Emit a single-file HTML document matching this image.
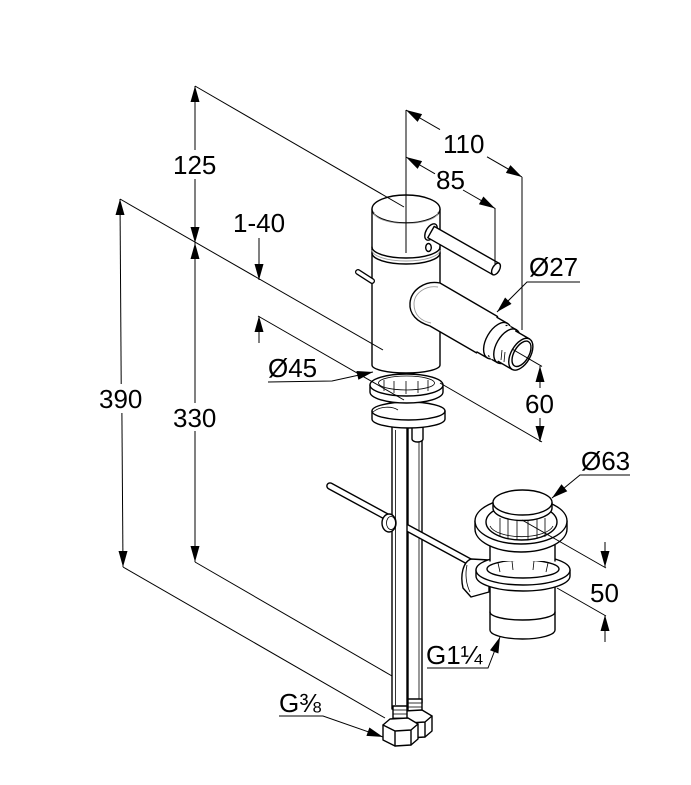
<!DOCTYPE html>
<html><head><meta charset="utf-8"><style>
html,body{margin:0;padding:0;background:#fff;}
svg{display:block;}
.o{fill:#fff;stroke:#000;stroke-width:1.4;stroke-linejoin:round;}
.n{fill:#fff;stroke:none;}
.s{fill:none;stroke:#000;stroke-width:1.4;stroke-linejoin:round;stroke-linecap:round;}
.t{fill:none;stroke:#000;stroke-width:0.8;}
.g{fill:none;stroke:#999;stroke-width:0.9;}
.d{fill:none;stroke:#000;stroke-width:1;}
.a{fill:#000;stroke:none;}
text{font-family:"Liberation Sans",Arial,sans-serif;font-size:26px;fill:#000;}
</style></head><body>
<svg width="691" height="785" viewBox="0 0 691 785" xmlns="http://www.w3.org/2000/svg">

<!-- ===== supply tubes, back tube B ===== -->
<rect class="o" x="408" y="425" width="14" height="278"/>
<line class="t" x1="419" y1="430" x2="419" y2="700"/>
<rect class="o" x="408" y="699" width="14" height="18"/>
<line class="t" x1="408" y1="703" x2="422" y2="703"/>
<line class="t" x1="408" y1="707" x2="422" y2="707"/>
<line class="t" x1="408" y1="711" x2="422" y2="711"/>
<!-- nut B -->
<path class="o" d="M404,711 L422,710 L432,716 L432,731 L425,737 L409,738 L397,732 L397,717 Z"/>
<path class="s" d="M397,717 L409,723 L425,722 L432,716 M409,723 L409,738 M425,722 L425,737"/>

<!-- pop-up rod -->
<line x1="330" y1="486" x2="470" y2="562" stroke="#000" stroke-width="7.6" stroke-linecap="round"/>
<line x1="330" y1="486" x2="470" y2="562" stroke="#fff" stroke-width="4.8" stroke-linecap="round"/>

<!-- tube A -->
<rect class="o" x="392" y="425" width="15" height="284"/>
<line class="t" x1="395.5" y1="430" x2="395.5" y2="705"/>
<rect class="o" x="393" y="706" width="14" height="20"/>
<line class="t" x1="393" y1="710" x2="407" y2="710"/>
<line class="t" x1="393" y1="714" x2="407" y2="714"/>
<line class="t" x1="393" y1="718" x2="407" y2="718"/>
<!-- nut A -->
<path class="o" d="M390,719 L408,718 L418,724 L418,739 L411,745 L395,746 L383,740 L383,725 Z"/>
<path class="s" d="M383,725 L395,731 L411,730 L418,724 M395,731 L395,746 M411,730 L411,745"/>

<!-- ball on rod -->
<ellipse class="o" cx="389" cy="523" rx="7" ry="9"/>
<ellipse class="t" cx="391" cy="523" rx="4.5" ry="6.5"/>

<!-- ===== mount parts ===== -->
<!-- pin -->
<path class="o" d="M412,424 L412,439 A5.5,3 0 0 0 423,439 L423,424 Z"/>
<!-- horseshoe -->
<path class="o" d="M372,411 A36.5,9 0 0 1 445,411 L445,419 A36.5,9 0 0 1 372,419 Z"/>
<path class="s" d="M372,411 A36.5,9 0 0 0 445,411"/>
<path class="t" d="M373,412 C380,406 392,406 398,410"/>
<!-- ring -->
<path class="o" d="M370,385 L370,392 A36.5,11 0 0 0 443,392 L443,385 Z"/>
<ellipse class="o" cx="406.5" cy="385" rx="36.5" ry="11"/>
<ellipse class="t" cx="406.5" cy="383" rx="28" ry="7"/>
<path class="t" d="M384,380 L384,391 M394,381 L394,393 M406,381 L406,394 M418,381 L418,393 M428,380 L428,391"/>

<!-- ===== faucet body ===== -->
<path class="o" d="M372,209 L372,365 A34,8 0 0 0 440,365 L440,209 Z"/>
<ellipse class="o" cx="406" cy="209" rx="34" ry="14"/>
<path class="g" d="M374,212 A32,11.5 0 0 0 438,212"/>
<path class="s" d="M372,247 A34,11 0 0 0 440,247"/>
<path class="g" d="M372,250 A34,11 0 0 0 440,250"/>
<path class="s" d="M372,253 A34,11 0 0 0 440,253"/>
<!-- small pin left -->
<line x1="358" y1="272" x2="372" y2="281" stroke="#000" stroke-width="6" stroke-linecap="round"/>
<line x1="358" y1="272" x2="372" y2="281" stroke="#fff" stroke-width="3.4" stroke-linecap="round"/>
<!-- small hole -->
<ellipse class="o" cx="428.5" cy="247.5" rx="2.8" ry="4"/>
<!-- lever -->
<ellipse class="o" cx="431" cy="232" rx="5" ry="9" transform="rotate(29.7 431 232)"/>
<polygon class="o" points="434.2,226.4 499.2,263.4 492.8,274.7 427.8,237.7"/>
<ellipse class="o" cx="496" cy="269" rx="3.5" ry="6.5" transform="rotate(29.7 496 269)"/>

<!-- spout -->
<path class="o" d="M440,283 L497.5,316.5 L476.5,352.9 L430,326 C417,322 409,314 410,303 C411,290 425,280 440,283 Z"/>
<path class="g" d="M438,287 C426,285 414,293 414,304 C414,315 421,321 431,323"/>

<!-- nozzle seg1 -->
<ellipse class="n" cx="487" cy="334.7" rx="11" ry="20" transform="rotate(30 487 334.7)"/>
<polygon class="n" points="497,317.4 507.4,323.4 487.4,358 477,352"/>
<path class="s" d="M497,317.4 L507.4,323.4 M477,352 L487.4,358"/>
<ellipse class="o" cx="497.4" cy="340.7" rx="11" ry="20" transform="rotate(30 497.4 340.7)"/>
<!-- seg2 -->
<ellipse class="n" cx="497.4" cy="340.7" rx="9.6" ry="17.5" transform="rotate(30 497.4 340.7)"/>
<polygon class="n" points="506.2,325.5 510.5,328 492.9,358.4 488.6,355.9"/>
<path class="s" d="M506.2,325.5 L510.5,328 M488.6,355.9 L492.9,358.4"/>
<ellipse class="o" cx="501.7" cy="343.2" rx="9.6" ry="17.5" transform="rotate(30 501.7 343.2)"/>
<!-- seg3 -->
<ellipse class="n" cx="501.7" cy="343.2" rx="10.5" ry="19" transform="rotate(30 501.7 343.2)"/>
<polygon class="n" points="511.2,326.8 516.4,329.8 497.4,362.7 492.2,359.7"/>
<path class="s" d="M511.2,326.8 L516.4,329.8 M492.2,359.7 L497.4,362.7"/>
<ellipse class="o" cx="506.9" cy="346.2" rx="10.5" ry="19" transform="rotate(30 506.9 346.2)"/>
<!-- seg4 -->
<ellipse class="n" cx="506.9" cy="346.2" rx="9.6" ry="17.5" transform="rotate(30 506.9 346.2)"/>
<polygon class="n" points="515.7,331 529.6,339 512,369.4 498.2,361.4"/>
<path class="s" d="M515.7,331 L529.6,339 M498.2,361.4 L512,369.4"/>
<path class="t" d="M502,350 L501,360 M505,352 L504,362"/>
<ellipse class="o" cx="520.8" cy="354.2" rx="9.6" ry="17.5" transform="rotate(30 520.8 354.2)"/>
<ellipse class="o" cx="521.5" cy="353.8" rx="7.4" ry="14" transform="rotate(30 521.5 353.8)"/>

<!-- ===== drain ===== -->
<!-- clip -->
<path class="o" d="M471,559 C463,562 460,575 463,588 L471,597 L489,592 L489,560 Z"/>
<path class="t" d="M467,565 C465,574 466,584 470,592"/>
<!-- bottom cylinder -->
<path class="o" d="M490,572 L490,630 A32.5,9 0 0 0 555,630 L555,572 Z"/>
<path class="s" d="M490,612 A32.5,8 0 0 0 555,612"/>
<!-- middle ring -->
<path class="o" d="M476,570 L476,576 A47,15 0 0 0 570,576 L570,570 Z"/>
<ellipse class="o" cx="523" cy="570" rx="47" ry="15"/>
<ellipse class="o" cx="523" cy="569" rx="36" ry="9"/>
<path class="t" d="M498,563 L500,572 M512,561 L513,570 M534,561 L533,570 M548,563 L546,572"/>
<!-- neck -->
<rect class="n" x="490" y="545" width="65" height="16"/>
<line class="s" x1="490" y1="545" x2="490" y2="561"/>
<line class="s" x1="555" y1="545" x2="555" y2="561"/>
<!-- flange -->
<path class="o" d="M475,521 L475,529 A46,23 0 0 0 567,529 L567,521 Z"/>
<ellipse class="o" cx="521" cy="521" rx="46" ry="23"/>
<ellipse class="o" cx="521.5" cy="522" rx="35.5" ry="18"/>
<path class="t" d="M500,518 L500,537 M508,519 L508,539 M517,520 L517,540 M528,520 L528,540 M537,519 L537,539 M545,518 L545,537"/>
<path class="t" d="M490,526 A32,13 0 0 0 553,526"/>
<!-- cap -->
<path class="o" d="M493,502.5 L493,508 A29.5,12.5 0 0 0 552,508 L552,502.5 Z"/>
<ellipse class="o" cx="522.5" cy="502.5" rx="29.5" ry="12.5"/>

<!-- ===== dimension & extension lines ===== -->
<g class="d">
<line x1="195" y1="86" x2="195" y2="150"/>
<line x1="195" y1="179" x2="195" y2="403"/>
<line x1="195" y1="431" x2="195" y2="562"/>
<line x1="120" y1="199" x2="121.2" y2="384"/>
<line x1="121.9" y1="413" x2="123" y2="567"/>
<line x1="259" y1="238" x2="259" y2="280"/>
<line x1="259" y1="316" x2="259" y2="343"/>
<line x1="540" y1="366" x2="540" y2="388"/>
<line x1="540" y1="418" x2="540" y2="442"/>
<line x1="605" y1="542" x2="605" y2="567"/>
<line x1="605" y1="615" x2="605" y2="642"/>

<line x1="195" y1="86" x2="404" y2="207"/>
<line x1="120" y1="199" x2="383" y2="350"/>
<line x1="258" y1="316" x2="404" y2="400"/>
<line x1="406" y1="110" x2="406" y2="253"/>
<line x1="406" y1="110" x2="440" y2="129.6"/>
<line x1="487" y1="156.8" x2="522" y2="177"/>
<line x1="522" y1="177" x2="522" y2="330"/>
<line x1="406" y1="157" x2="435" y2="173.8"/>
<line x1="463" y1="190" x2="495" y2="208.4"/>
<line x1="495" y1="208" x2="495" y2="264"/>
<line x1="512" y1="349" x2="542" y2="366.4"/>
<line x1="440" y1="383" x2="542" y2="442"/>
<line x1="522" y1="520" x2="606" y2="568"/>
<line x1="557" y1="588" x2="606" y2="616"/>
<line x1="123" y1="567" x2="385" y2="718"/>
<line x1="195" y1="562" x2="392" y2="676"/>

<polyline points="580,282 527,282 497,312"/>
<polyline points="268,382 332,381 373,372"/>
<polyline points="630,475 580,475 552,498"/>
<polyline points="427,668 488,668 500,637"/>
<polyline points="279,716 323,716 383,737"/>
</g>

<!-- arrowheads -->
<g class="a">
<polygon points="195,86 190.5,102 199.5,102"/>
<polygon points="195,243 190.5,227 199.5,227"/>
<polygon points="195,243 190.5,259 199.5,259"/>
<polygon points="195,562 190.5,546 199.5,546"/>
<polygon points="120,199 115.5,215 124.5,215"/>
<polygon points="123,567 118.5,551 127.5,551"/>
<polygon points="259,280 254.5,264 263.5,264"/>
<polygon points="259,316 254.5,332 263.5,332"/>
<polygon points="540,366 535.5,382 544.5,382"/>
<polygon points="540,442 535.5,426 544.5,426"/>
<polygon points="605,567 600.5,551 609.5,551"/>
<polygon points="605,615 600.5,631 609.5,631"/>

<polygon points="406,110 422.1,114.1 417.6,121.9"/>
<polygon points="522,177 505.9,172.9 510.4,165.1"/>
<polygon points="406,157 422.1,161.1 417.6,168.9"/>
<polygon points="495,208.4 478.9,204.3 483.4,196.5"/>
<polygon points="497,312 505.1,297.5 511.5,303.9"/>
<polygon points="373,372 358.4,379.8 356.4,371"/>
<polygon points="552,498 561.5,484.3 567.3,491.3"/>
<polygon points="500,637 498.4,653.5 490,650.3"/>
<polygon points="383,737 366.4,735.9 369.4,727.5"/>
</g>

<!-- labels -->
<text x="173" y="174">125</text>
<text x="443" y="153">110</text>
<text x="436" y="189">85</text>
<text x="233" y="232">1-40</text>
<text x="99" y="408">390</text>
<text x="173" y="427">330</text>
<text x="268" y="377">Ø45</text>
<text x="529" y="276">Ø27</text>
<text x="525" y="413">60</text>
<text x="581" y="470">Ø63</text>
<text x="590" y="602">50</text>
<text x="426" y="664">G1¼</text>
<text x="279" y="712">G⅜</text>
</svg>
</body></html>
